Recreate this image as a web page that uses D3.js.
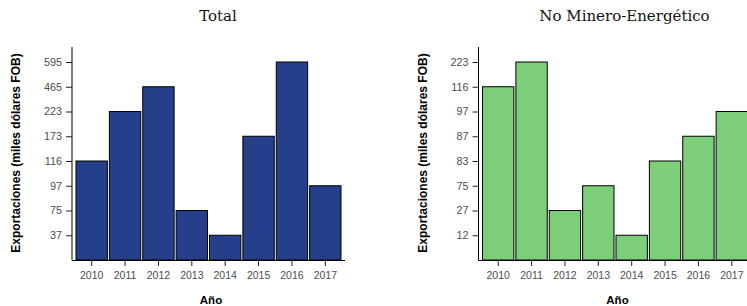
<!DOCTYPE html>
<html>
<head>
<meta charset="utf-8">
<script src="https://cdn.jsdelivr.net/npm/d3@7"></script>
<style>
  body { margin: 0; background: #fff; }
  svg { display: block; }
</style>
</head>
<body>
<div class="chart"></div>
<script>
// Datos
const years = ["2010", "2011", "2012", "2013", "2014", "2015", "2016", "2017"];
const totalValues = [116, 223, 465, 75, 37, 173, 595, 97];
const noMineroValues = [116, 223, 27, 75, 12, 83, 87, 97];
const panelTitles = ["Total", "No Minero-Energético"];

const width = 747, height = 306;

const svg = d3.select(".chart").append("svg")
  .attr("width", width)
  .attr("height", height);

function BarPanel(g, values, { title, fill, left = 0 }) {
  const x0 = 72, x1 = 345;         // ejes
  const yBase = 260, yTop = 47;

  // eje y ordinal: los valores ordenados, con una posición de base
  const sorted = Array.from(new Set(values)).sort((a, b) => a - b);
  const y = d3.scalePoint()
    .domain(["base", ...sorted])
    .range([yBase, 62]);

  const x = d3.scaleBand()
    .domain(years)
    .range([75, 342])
    .paddingInner(0.06)
    .paddingOuter(0.03);

  const p = g.append("g").attr("transform", `translate(${left},0)`);

  // barras
  p.append("g")
    .selectAll("rect")
    .data(values)
    .join("rect")
    .attr("x", (d, i) => x(years[i]))
    .attr("width", x.bandwidth())
    .attr("y", d => y(d))
    .attr("height", d => yBase - y(d))
    .attr("fill", fill)
    .attr("stroke", "#000")
    .attr("stroke-width", 1);

  // eje y
  const yAxis = p.append("g")
    .attr("transform", `translate(${x0},0)`)
    .call(d3.axisLeft(y).tickValues(sorted).tickSize(6).tickPadding(4))
    .call(g => g.select(".domain").remove());
  yAxis.selectAll(".tick line").attr("stroke", "#222");
  yAxis.selectAll(".tick text")
    .attr("fill", "#4d4d4d")
    .attr("font-family", "Liberation Sans, Arial, sans-serif")
    .attr("font-size", 10.8);

  p.append("line")
    .attr("x1", x0).attr("x2", x0)
    .attr("y1", yTop).attr("y2", yBase + 0.5)
    .attr("stroke", "#000");

  // eje x
  const xAxis = p.append("g")
    .attr("transform", `translate(0,${yBase})`)
    .call(d3.axisBottom(x).tickSize(6).tickPadding(6))
    .call(g => g.select(".domain").remove());
  xAxis.selectAll(".tick line").attr("stroke", "#222");
  xAxis.selectAll(".tick text")
    .attr("fill", "#4d4d4d")
    .attr("font-family", "Liberation Sans, Arial, sans-serif")
    .attr("font-size", 10.5);

  p.append("line")
    .attr("x1", x0).attr("x2", x1)
    .attr("y1", yBase + 0.5).attr("y2", yBase + 0.5)
    .attr("stroke", "#000");

  // títulos
  p.append("text")
    .attr("x", 218)
    .attr("y", 21)
    .attr("text-anchor", "middle")
    .attr("font-family", "DejaVu Serif, serif")
    .attr("font-size", 15)
    .attr("fill", "#111")
    .text(title);

  p.append("text")
    .attr("x", 211)
    .attr("y", 304)
    .attr("text-anchor", "middle")
    .attr("font-family", "Liberation Sans, Arial, sans-serif")
    .attr("font-weight", "bold")
    .attr("font-size", 11.5)
    .text("Año");

  p.append("text")
    .attr("transform", `translate(20,153) rotate(-90)`)
    .attr("text-anchor", "middle")
    .attr("font-family", "Liberation Sans, Arial, sans-serif")
    .attr("font-weight", "bold")
    .attr("font-size", 12)
    .text("Exportaciones (miles dólares FOB)");
}

BarPanel(svg, totalValues, { title: panelTitles[0], fill: "#263F8A", left: 0 });
BarPanel(svg, noMineroValues, { title: panelTitles[1], fill: "#7CCE7A", left: 406.5 });
</script>
</body>
</html>
